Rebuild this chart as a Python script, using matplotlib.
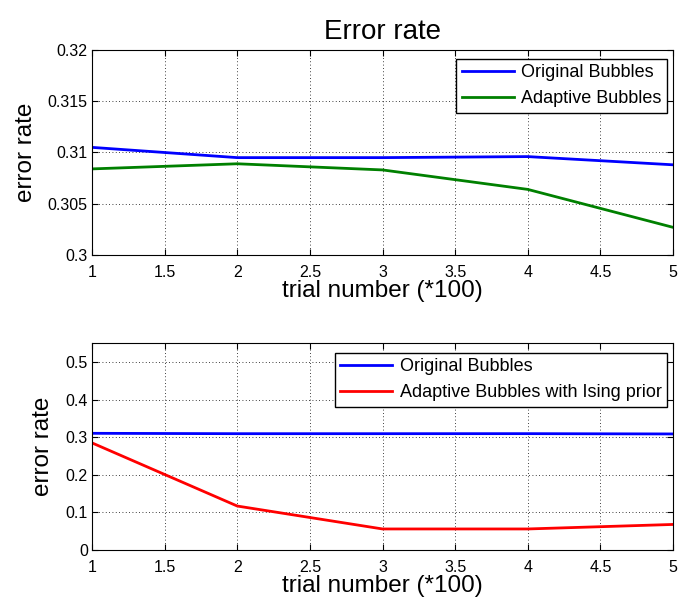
import matplotlib
matplotlib.use("Agg")
import matplotlib.pyplot as plt

trials = [1, 2, 3, 4, 5]
original = [0.3105, 0.3095, 0.3095, 0.3096, 0.3088]
adaptive = [0.3084, 0.3089, 0.3083, 0.3064, 0.3027]
ising = [0.285, 0.117, 0.056, 0.056, 0.068]

plt.rcParams["font.family"] = ["Liberation Sans", "DejaVu Sans"]

fig = plt.figure(figsize=(6.8, 6.06), dpi=100)
ax1 = fig.add_axes([0.1353, 0.5792, 0.8544, 0.3383])
ax2 = fig.add_axes([0.1353, 0.0924, 0.8544, 0.3411])

#painel de cima
ax1.plot(trials, original, color="#0000ff", lw=2, label="Original Bubbles")
ax1.plot(trials, adaptive, color="#008000", lw=2, label="Adaptive Bubbles")
ax1.set_xlim(1, 5)
ax1.set_ylim(0.3, 0.32)
ax1.set_yticks([0.3, 0.305, 0.31, 0.315, 0.32])
ax1.set_yticklabels(["0.3", "0.305", "0.31", "0.315", "0.32"])
ax1.set_title("Error rate", fontsize=20, pad=8)
ax1.legend(loc="upper right", bbox_to_anchor=(0.9897, 0.956), borderaxespad=0,
           fontsize=13, fancybox=False, edgecolor="black", framealpha=1,
           handlelength=2.9, handletextpad=0.4, borderpad=0.3)

#painel de baixo
ax2.plot(trials, original, color="#0000ff", lw=2, label="Original Bubbles")
ax2.plot(trials, ising, color="#ff0000", lw=2, label="Adaptive Bubbles with Ising prior")
ax2.set_xlim(1, 5)
ax2.set_ylim(0, 0.55)
ax2.set_yticks([0, 0.1, 0.2, 0.3, 0.4, 0.5])
ax2.set_yticklabels(["0", "0.1", "0.2", "0.3", "0.4", "0.5"])
ax2.legend(loc="upper right", bbox_to_anchor=(0.9897, 0.953), borderaxespad=0,
           fontsize=13, fancybox=False, edgecolor="black", framealpha=1,
           handlelength=2.9, handletextpad=0.4, borderpad=0.3)

for ax in [ax1, ax2]:
    ax.set_xticks([1, 1.5, 2, 2.5, 3, 3.5, 4, 4.5, 5])
    ax.set_xticklabels(["1", "1.5", "2", "2.5", "3", "3.5", "4", "4.5", "5"])
    ax.set_xlabel("trial number (*100)", fontsize=17.5, labelpad=0)
    ax.set_ylabel("error rate", fontsize=17.5, labelpad=8)
    ax.grid(True, linestyle=(0, (1, 3)), color="black", lw=0.6)
    ax.tick_params(direction="in", top=True, right=True, labelsize=11.5, length=4)
    ax.tick_params(axis="x", pad=7)
    ax.tick_params(axis="y", pad=3)

fig.savefig("out.png", dpi=100)
